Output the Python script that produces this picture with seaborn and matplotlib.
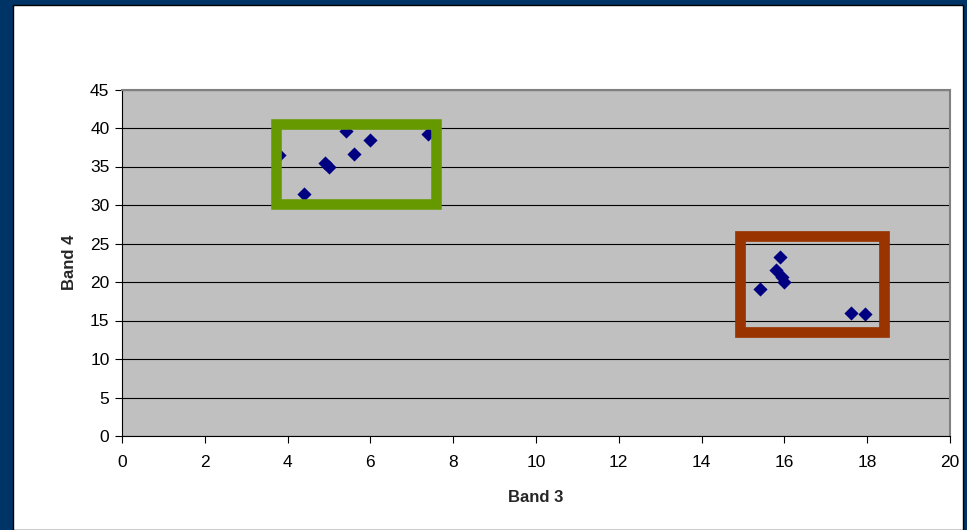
import matplotlib
matplotlib.use("Agg")
import matplotlib.pyplot as plt
from matplotlib.patches import Rectangle
import seaborn as sns
import pandas as pd

# Spectral values of the sampled pixels
band3 = [3.8, 4.4, 4.9, 5.0, 5.4, 5.6, 6.0, 7.4,
         15.4, 15.8, 15.9, 15.95, 16.0, 17.6, 17.95]
band4 = [36.5, 31.4, 35.5, 35.0, 39.6, 36.6, 38.5, 39.2,
         19.1, 21.6, 23.2, 20.6, 20.0, 16.0, 15.8]

x_ticks = [0, 2, 4, 6, 8, 10, 12, 14, 16, 18, 20]
y_ticks = [0, 5, 10, 15, 20, 25, 30, 35, 40, 45]

df = pd.DataFrame({"Band 3": band3, "Band 4": band4})

sns.set_style("white")
plt.rcParams["font.family"] = ["Liberation Sans", "DejaVu Sans"]

W, H = 967, 530
fig = plt.figure(figsize=(W / 100, H / 100), dpi=100)
fig.patch.set_facecolor("#003366")

# white slide panel with a thin dark edge, kept behind the axes
fig.patches.append(Rectangle((12.5 / W, 0), 950.5 / W, 525.5 / H,
                             transform=fig.transFigure, facecolor="white",
                             edgecolor="black", linewidth=1.0, zorder=-10))

ax = fig.add_axes([122 / W, (H - 436) / H, (950 - 122) / W, (436 - 89.5) / H])
ax.set_zorder(5)
ax.set_facecolor("#C0C0C0")

sns.scatterplot(data=df, x="Band 3", y="Band 4", ax=ax, marker="D",
                s=52, color="#000080", linewidth=0, zorder=3, clip_on=False)

# cluster outlines
ax.add_patch(Rectangle((3.72, 30.13), 7.58 - 3.72, 40.56 - 30.13,
                       fill=False, edgecolor="#669900", linewidth=7.6,
                       joinstyle="miter", zorder=4))
ax.add_patch(Rectangle((14.93, 13.5), 18.40 - 14.93, 26.0 - 13.5,
                       fill=False, edgecolor="#993300", linewidth=7.7,
                       joinstyle="miter", zorder=4))

ax.set_xlim(0, 20)
ax.set_ylim(0, 45)
ax.set_xticks(x_ticks)
ax.set_yticks(y_ticks)
ax.tick_params(axis="both", direction="out", length=5, width=0.8,
               color="black", labelsize=12.5, labelcolor="black")
ax.tick_params(axis="x", pad=9)
ax.tick_params(axis="y", pad=4)
ax.xaxis.set_ticks_position("bottom")
ax.yaxis.set_ticks_position("left")

ax.yaxis.grid(True, color="black", linewidth=0.8)
ax.xaxis.grid(False)
ax.set_axisbelow(True)

for side in ("left", "bottom"):
    ax.spines[side].set_color("black")
    ax.spines[side].set_linewidth(0.8)
for side in ("top", "right"):
    ax.spines[side].set_color("#808080")
    ax.spines[side].set_linewidth(1.5)
    ax.spines[side].set_visible(True)

ax.set_xlabel("Band 3", fontsize=12, fontweight="bold", labelpad=14)
ax.set_ylabel("Band 4", fontsize=12, fontweight="bold", labelpad=9)

fig.savefig("out.png", dpi=100, facecolor=fig.get_facecolor())
